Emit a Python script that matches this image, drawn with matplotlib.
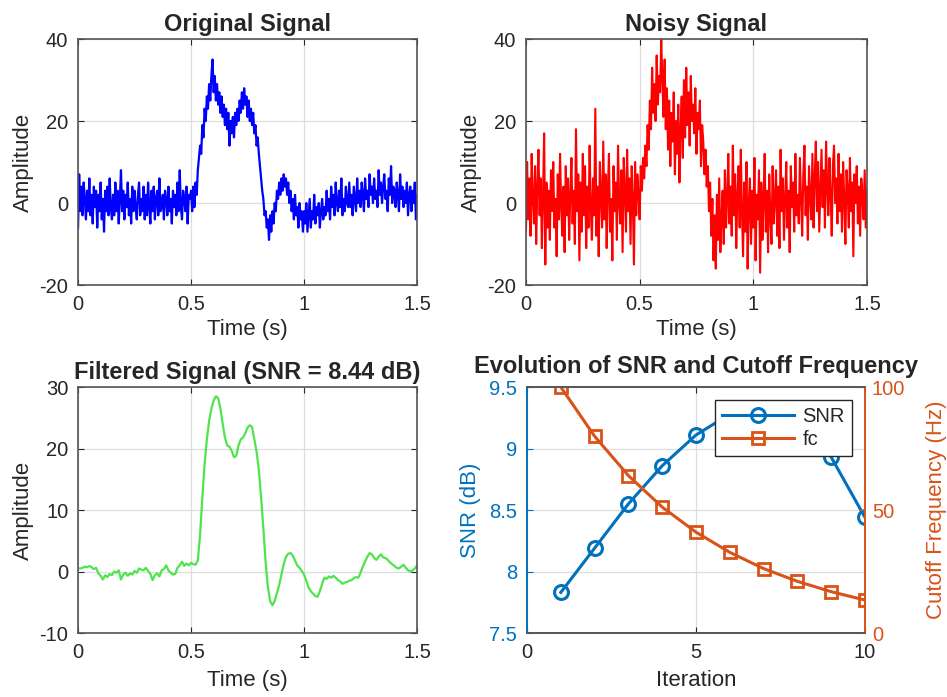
import numpy as np
import matplotlib
matplotlib.use('Agg')
import matplotlib.pyplot as plt
from matplotlib.ticker import FuncFormatter

plt.rcParams['font.family'] = ['Liberation Sans', 'DejaVu Sans']

# sample times of the signals (s)
t_raw = np.linspace(0, 1.5, 301)
t_filt = np.linspace(0, 1.5, 151)

# original signal (every 5 ms)
orig_sig = [
    -6, 7, -2, 4, -3, 5, 1, -4, 3, -2, 6, -3, 2, -5, 4, -1, 3, -6, 2, -2,
    5, -4, 1, -7, 3, -2, 4, -3, 6, -1, -4, 2, -3, 5, -2, 3, -5, 1, 8, -2,
    3, -4, 2, -1, 5, -3, 1, -5, 4, -2, 3, -1, -4, 2, 5, -3, 1, -2, 4, -4,
    2, -3, 5, -1, -5, 3, -2, 4, -4, 1, 3, -3, 6, -2, -1, 2, -4, 3, 1, -3,
    4, -2, 1, -5, 3, -1, 2, -3, 5, -2, 8, -1, -4, 3, 1, -2, 4, -5, 2, 1,
    3, -2, 4, -1, 5, 2, 8, 11, 14, 12, 19, 16, 23, 20, 26, 23, 29, 25, 31, 35,
    27, 31, 25, 29, 24, 27, 22, 26, 21, 24, 19, 23, 18, 22, 14, 20, 17, 21, 16, 22,
    19, 23, 20, 25, 22, 27, 23, 28, 24, 26, 21, 25, 20, 23, 19, 22, 17, 19, 14, 16,
    12, 9, 6, 3, 1, -3, -2, -6, -4, -9, -3, -7, -2, -5, 0, -2, 3, 1, 5, 2,
    6, 3, 7, 4, 6, 2, 5, 0, 3, -2, 1, -4, 2, -3, -1, -6, 0, -4, -2, -7,
    -2, -5, 0, -7, -3, 1, -6, -2, -4, 2, -5, -1, -3, 0, -6, -2, 1, -4, -1, -3,
    3, -2, 1, -4, 4, -1, 2, -3, 5, 0, -2, 3, -1, 6, -3, 1, -2, 4, 0, -1,
    5, -1, 2, -3, 4, 1, -2, 6, 0, 3, -1, 5, 2, -2, 6, 1, 3, -1, 7, 2,
    4, 0, 6, 1, 3, -1, 8, 2, 5, 0, 4, 7, 1, 3, -2, 6, 2, 9, 0, 4,
    3, -1, 5, 2, -2, 7, 1, 4, -1, 3, 0, 5, -3, 2, 4, -2, 3, 0, 5, -4,
    2,
]

# noisy signal (every 5 ms)
noisy_sig = [
    -7, 10, -4, 6, -8, 12, 1, -5, 9, -10, 4, 13, -3, 6, -11, 2, 17, -15, 5, -6,
    3, -9, 8, -2, 10, -6, 1, -13, 7, -4, 12, -1, -8, 4, -12, 9, -3, 6, -9, 2,
    11, -5, 3, -10, 18, -2, 7, -14, 5, -7, 12, -3, 9, -11, 4, -6, 14, -1, -9, 6,
    -3, 23, -8, 4, -13, 10, 2, -6, 15, -4, 7, -11, 3, 12, -7, 1, -14, 9, -2, 5,
    -9, 14, 0, -5, 8, -12, 11, 3, -7, 13, -2, 6, -10, 9, 1, -15, 10, -3, 7, 2,
    -4, 9, 3, 11, 6, 14, 9, 19, 13, 25, 18, 33, 22, 29, 20, 36, 24, 31, 27, 40,
    30, 21, 35, 18, 28, 13, 25, 9, 22, 15, 27, 7, 20, 12, 24, 5, 18, 26, 11, 30,
    16, 33, 19, 27, 14, 31, 20, 24, 17, 28, 12, 22, 18, 25, 9, 19, 15, 7, 13, 4,
    9, -2, 5, -8, 1, -14, -3, -16, 2, -9, 6, -12, -4, 3, -10, 8, -6, 1, 12, -5,
    4, -8, 14, -3, 7, -11, 2, 9, -6, 13, -2, -13, 5, -7, 10, -16, 0, 6, -10, 3,
    -6, 11, -14, 2, -4, 8, -17, 5, -9, 0, 12, -7, 3, -12, 7, -3, -10, 9, -5, 1,
    8, -8, 4, -11, 13, -2, 6, -9, 1, 10, -6, 3, -12, 9, -1, 5, -7, 12, -3, 2,
    -5, 11, 1, -8, 7, 14, -3, 4, -9, 9, 2, -4, 12, -6, 6, 15, -2, 10, -7, 3,
    13, -1, 8, -6, 15, 4, -3, 11, 2, -8, 9, 14, 0, 6, -5, 12, -2, 7, -7, 10,
    1, -10, 8, 3, -6, 11, -2, 5, -13, 7, 0, 9, -5, 4, -8, 6, 2, -4, 8, -6,
    3,
]

# filtered signal (every 10 ms)
filt_sig = [
    0.5, 0.5, 0.6, 0.8, 0.7, 0.9, 0.7, 0.4, 0.6, -0.3,
    -0.7, -1.3, -0.6, -0.9, -0.4, -0.6, 0.0, -0.2, 0.2, -1.3,
    -0.5, -0.2, -0.7, -0.3, -0.5, 0.1, -0.2, 0.5, 0.3, 0.2,
    0.6, 0.1, -0.4, -1.4, -0.6, -0.3, -0.8, 0.2, 0.4, 1.0,
    0.2, -0.2, -0.5, -0.4, 0.6, 1.0, 1.6, 0.9, 1.3, 1.0,
    1.4, 1.2, 1.1, 1.8, 6.0, 12.0, 17.5, 21.5, 24.5, 26.5,
    27.8, 28.5, 28.2, 26.5, 24.0, 21.8, 20.5, 20.3, 19.6, 18.6,
    18.8, 20.5, 21.5, 21.8, 22.5, 23.4, 23.8, 23.5, 21.5, 19.5,
    16.5, 12.0, 7.0, 1.5, -2.5, -4.8, -5.5, -4.8, -3.5, -2.2,
    -0.5, 1.2, 2.4, 2.9, 3.0, 2.6, 1.8, 1.0, 0.6, 0.1,
    -0.5, -1.5, -2.6, -3.2, -3.6, -4.0, -4.1, -3.2, -2.0, -1.0,
    -1.2, -0.8, -1.0, -0.7, -1.0, -1.4, -1.6, -2.0, -1.8, -1.7,
    -1.5, -1.4, -1.1, -0.9, -1.0, -0.2, 0.8, 1.6, 2.4, 3.0,
    2.8, 2.2, 1.9, 2.4, 2.8, 2.3, 2.2, 1.9, 1.5, 1.2,
    0.9, 0.6, 0.5, 0.8, 1.1, 0.6, 0.2, 0.0, 0.2, 0.5,
    1.0,
]

# optimisation history
iterations = [1, 2, 3, 4, 5, 6, 7, 8, 9, 10]
snr_db = [7.83, 8.19, 8.55, 8.86, 9.11, 9.28, 9.33, 9.22, 8.93, 8.44]
cutoff_hz = [100, 80, 64, 51.2, 41, 32.8, 26.2, 21, 16.8, 13.4]

TXT = '#262626'
BLUE = '#0072BD'
ORANGE = '#D95319'
fmt = FuncFormatter(lambda v, p: '%g' % v)


# matlab-ish look for one axes
def style_axes(ax):
    ax.grid(True, color='#dedede', lw=0.9)
    ax.set_axisbelow(True)
    ax.tick_params(direction='in', top=True, right=True, length=4,
                   labelsize=14.5, colors=TXT, pad=7)
    ax.xaxis.set_major_formatter(fmt)
    ax.yaxis.set_major_formatter(fmt)
    for sp in ax.spines.values():
        sp.set_color('#555555')
        sp.set_linewidth(1.2)


fig = plt.figure(figsize=(9.47, 6.97), dpi=100)
ax1 = fig.add_axes([0.0824, 0.5911, 0.3580, 0.3529])
ax2 = fig.add_axes([0.5554, 0.5911, 0.3601, 0.3529])
ax3 = fig.add_axes([0.0824, 0.0918, 0.3580, 0.3529])
ax4 = fig.add_axes([0.5565, 0.0918, 0.3569, 0.3529])

title_kw = dict(fontsize=17, fontweight='bold', color=TXT, pad=6)

# top left: original
ax1.plot(t_raw, orig_sig, color='b', lw=1.6)
ax1.set_xlim(0, 1.5)
ax1.set_ylim(-20, 40)
ax1.set_xticks([0, 0.5, 1, 1.5])
ax1.set_yticks([-20, 0, 20, 40])
style_axes(ax1)
ax1.set_title('Original Signal', **title_kw)
ax1.set_xlabel('Time (s)', fontsize=16, color=TXT, labelpad=4)
ax1.set_ylabel('Amplitude', fontsize=16, color=TXT, labelpad=4)

# top right: noisy
ax2.plot(t_raw, noisy_sig, color='r', lw=1.5)
ax2.set_xlim(0, 1.5)
ax2.set_ylim(-20, 40)
ax2.set_xticks([0, 0.5, 1, 1.5])
ax2.set_yticks([-20, 0, 20, 40])
style_axes(ax2)
ax2.set_title('Noisy Signal', **title_kw)
ax2.set_xlabel('Time (s)', fontsize=16, color=TXT, labelpad=4)
ax2.set_ylabel('Amplitude', fontsize=16, color=TXT, labelpad=4)

# bottom left: filtered
ax3.plot(t_filt, filt_sig, color='#4ee44e', lw=1.6)
ax3.set_xlim(0, 1.5)
ax3.set_ylim(-10, 30)
ax3.set_xticks([0, 0.5, 1, 1.5])
ax3.set_yticks([-10, 0, 10, 20, 30])
style_axes(ax3)
ax3.set_title('Filtered Signal (SNR = 8.44 dB)', **title_kw)
ax3.set_xlabel('Time (s)', fontsize=16, color=TXT, labelpad=6)
ax3.set_ylabel('Amplitude', fontsize=16, color=TXT, labelpad=4)

# bottom right: snr + cutoff on two y axes
l1, = ax4.plot(iterations, snr_db, '-o', color=BLUE, lw=2.2, ms=10,
               mew=2.2, mfc='none', label='SNR')
ax4.set_xlim(0, 10)
ax4.set_ylim(7.5, 9.5)
ax4.set_xticks([0, 5, 10])
ax4.set_yticks([7.5, 8, 8.5, 9, 9.5])
style_axes(ax4)
ax4.tick_params(axis='y', colors=BLUE, right=False)
ax4.set_ylabel('SNR (dB)', fontsize=16, color=BLUE, labelpad=6)
ax4.set_xlabel('Iteration', fontsize=16, color=TXT, labelpad=6)
ax4.set_title('Evolution of SNR and Cutoff Frequency', fontsize=17,
              fontweight='bold', color=TXT, pad=10)

ax4b = ax4.twinx()
l2, = ax4b.plot(iterations, cutoff_hz, '-s', color=ORANGE, lw=2.2, ms=9,
                mew=2.0, mfc='none', label='fc')
ax4b.set_ylim(0, 100)
ax4b.set_yticks([0, 50, 100])
ax4b.yaxis.set_major_formatter(fmt)
ax4b.tick_params(axis='y', direction='in', length=4, labelsize=14.5,
                 colors=ORANGE, pad=5)
ax4b.set_ylabel('Cutoff Frequency (Hz)', fontsize=16, color=ORANGE, labelpad=15)
for name, sp in ax4b.spines.items():
    sp.set_linewidth(1.2)
    sp.set_color('#555555')
ax4b.spines['left'].set_color(BLUE)
ax4b.spines['right'].set_color(ORANGE)
ax4.spines['left'].set_color(BLUE)
ax4.spines['right'].set_color(ORANGE)

leg = ax4b.legend([l1, l2], ['SNR', 'fc'], loc='upper right',
                  bbox_to_anchor=(0.9615, 0.947), borderaxespad=0,
                  fontsize=14.5, fancybox=False, framealpha=1,
                  edgecolor='#262626', handlelength=3.6, borderpad=0.35,
                  labelspacing=0.2, handletextpad=0.4)
leg.get_frame().set_linewidth(1.0)
for txt in leg.get_texts():
    txt.set_color(TXT)

fig.savefig('out.png', dpi=100)
